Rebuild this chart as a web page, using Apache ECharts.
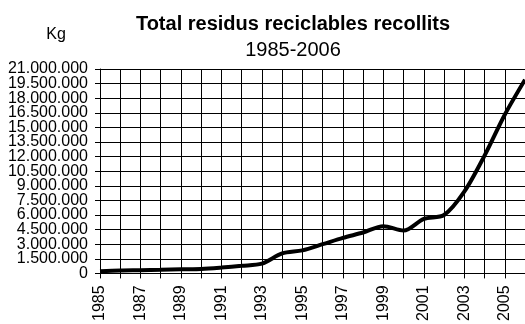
<!DOCTYPE html>
<html>
<head>
<meta charset="utf-8">
<script src="https://cdn.jsdelivr.net/npm/echarts@6/dist/echarts.min.js"></script>
<style>
  html, body { margin: 0; padding: 0; background: #fff; }
  #chart { width: 525px; height: 324px; }
</style>
</head>
<body>
<div id="chart"></div>
<script>
var years = ['1985', '1986', '1987', '1988', '1989', '1990', '1991', '1992', '1993', '1994', '1995',
  '1996', '1997', '1998', '1999', '2000', '2001', '2002', '2003', '2004', '2005', '2006'];
// kg recollits per any
var totalKg = [220000, 300000, 330000, 370000, 430000, 460000, 600000, 780000, 1000000, 2050000, 2370000,
  3000000, 3650000, 4200000, 4850000, 4400000, 5600000, 6000000, 8400000, 12100000, 16300000, 19900000];
var yMax = 21000000;
var yStep = 1500000;

function dots(v) {
  return String(v).replace(/\B(?=(\d{3})+(?!\d))/g, '.');
}

var chart = echarts.init(document.getElementById('chart'));
var font = 'Liberation Sans, Arial, sans-serif';
var yLabel = { margin: 12, color: '#000', fontFamily: font, fontSize: 16, formatter: dots };

chart.setOption({
  animation: false,
  backgroundColor: '#fff',
  graphic: [
    { type: 'text', x: 293, y: 34,
      style: { text: 'Total residus reciclables recollits', fontFamily: font, fontSize: 20, fontWeight: 'bold',
        fill: '#000', textAlign: 'center', textVerticalAlign: 'bottom' } },
    { type: 'text', x: 293, y: 60,
      style: { text: '1985-2006', fontFamily: font, fontSize: 20, fill: '#000',
        textAlign: 'center', textVerticalAlign: 'bottom' } },
    { type: 'text', x: 56, y: 43,
      style: { text: 'Kg', fontFamily: font, fontSize: 16, fill: '#000',
        textAlign: 'center', textVerticalAlign: 'bottom' } }
  ],
  grid: { left: 100, right: -5.5, top: 69, bottom: 48, containLabel: false },
  xAxis: {
    type: 'category',
    data: years,
    boundaryGap: false,
    axisLine: { lineStyle: { color: '#000', width: 1 } },
    axisTick: { show: true, interval: 0, length: 5, lineStyle: { color: '#000' } },
    axisLabel: { interval: 1, rotate: 90, margin: 12, color: '#000', fontFamily: font, fontSize: 16 },
    splitLine: { show: true, interval: 0, lineStyle: { color: '#000', width: 1 } }
  },
  yAxis: [{
    type: 'value',
    min: 0,
    max: yMax,
    interval: yStep,
    axisLine: { show: true, lineStyle: { color: '#000', width: 1 } },
    axisTick: { show: true, length: 5, lineStyle: { color: '#000' } },
    axisLabel: Object.assign({ showMinLabel: false, showMaxLabel: false }, yLabel),
    splitLine: { show: true, lineStyle: { color: '#000', width: 1 } }
  }, {
    // només 0 i 21.000.000, que l'eix principal amaga per solapament
    type: 'value',
    position: 'left',
    min: 0,
    max: yMax,
    interval: yMax,
    axisLine: { show: false },
    axisTick: { show: true, length: 5, lineStyle: { color: '#000' } },
    axisLabel: yLabel,
    splitLine: { show: false }
  }],
  series: [{
    type: 'line',
    data: totalKg,
    smooth: 0.3,
    symbol: 'none',
    lineStyle: { color: '#000', width: 4 }
  }]
});
</script>
</body>
</html>
